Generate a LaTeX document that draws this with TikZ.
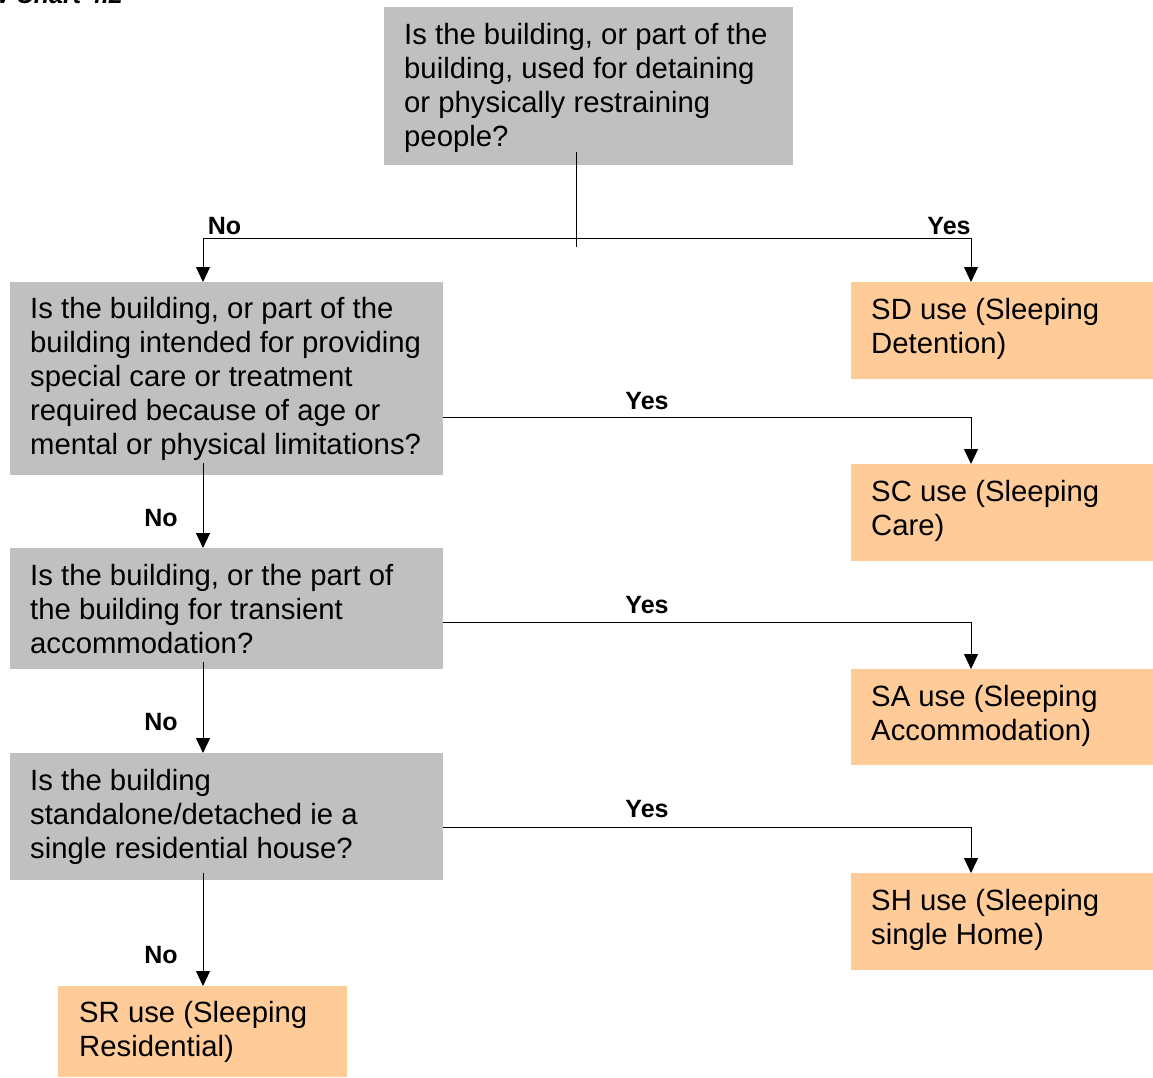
\documentclass[tikz,border=0pt]{standalone}
\usepackage{fontspec}
\setmainfont{Liberation Sans}
\usetikzlibrary{arrows.meta}
\definecolor{qgray}{HTML}{C0C0C0}
\definecolor{aorange}{HTML}{FFCC99}
\tikzset{
  qbox/.style={draw=none, fill=qgray, rectangle, inner sep=0pt, anchor=north west},
  abox/.style={draw=none, fill=aorange, rectangle, inner sep=0pt, anchor=north west},
  btxt/.style={anchor=west, align=left, inner sep=0pt, font=\fontsize{29.3}{34}\selectfont},
  lbl/.style={inner sep=0pt, font=\fontsize{25}{28}\selectfont\bfseries},
  conn/.style={line width=1pt, draw=black},
  arr/.style={conn, -{Triangle[width=14pt,length=15pt]}}
}
\begin{document}
\begin{tikzpicture}[x=1pt,y=-1pt]
\useasboundingbox (0,0) rectangle (1153,1077);
\clip (0,0) rectangle (1153,1077);
\node[inner sep=0pt, anchor=base east, font=\fontsize{25}{28}\selectfont\bfseries\itshape] (title) at (123,3.5) {Flow Chart 4.2};
% question boxes
\node[qbox, minimum width=409pt, minimum height=158pt] (q1) at (384,7) {};
\node[qbox, minimum width=433pt, minimum height=193pt] (q2) at (10,282) {};
\node[qbox, minimum width=433pt, minimum height=121pt] (q3) at (10,548) {};
\node[qbox, minimum width=433pt, minimum height=127pt] (q4) at (10,753) {};
% answer boxes
\node[abox, minimum width=302pt, minimum height=97pt] (sd) at (851,282) {};
\node[abox, minimum width=302pt, minimum height=97pt] (sc) at (851,464) {};
\node[abox, minimum width=302pt, minimum height=96pt] (sa) at (851,669) {};
\node[abox, minimum width=302pt, minimum height=97pt] (sh) at (851,873) {};
\node[abox, minimum width=289pt, minimum height=91pt] (sr) at (58,986) {};
% texts
\node[btxt] (q1t) at ([xshift=20pt,yshift=-1.5pt]q1.west) {Is the building, or part of the\\building, used for detaining\\or physically restraining\\people?};
\node[btxt] (q2t) at ([xshift=20pt]q2.west) {Is the building, or part of the\\building intended for providing\\special care or treatment\\required because of age or\\mental or physical limitations?};
\node[btxt] (q3t) at ([xshift=20pt]q3.west) {Is the building, or the part of\\the building for transient\\accommodation?};
\node[btxt] (q4t) at ([xshift=20pt]q4.west) {Is the building\\standalone/detached ie a\\single residential house?};
\node[btxt] (sdt) at ([xshift=20pt,yshift=2pt]sd.west) {SD use (Sleeping\\Detention)};
\node[btxt] (sct) at ([xshift=20pt,yshift=2pt]sc.west) {SC use (Sleeping\\Care)};
\node[btxt] (sat) at ([xshift=20pt,yshift=1.5pt]sa.west) {SA use (Sleeping\\Accommodation)};
\node[btxt] (sht) at ([xshift=20pt,yshift=2pt]sh.west) {SH use (Sleeping\\single Home)};
\node[btxt] (srt) at ([xshift=21pt]sr.west) {SR use (Sleeping\\Residential)};
% connectors
\coordinate (j1) at (576,238);
\coordinate (nL) at (203,238);
\coordinate (nR) at (971,238);
\draw[conn] ([yshift=13pt]q1.south -| j1) -- ([yshift=-9pt]j1);
\draw[conn] (nL) -- (nR);
\draw[arr] (nL) -- (nL |- q2.north);
\draw[arr] (nR) -- (nR |- sd.north);
\draw[arr] ([yshift=-38.5pt]q2.east) -| (nR |- sc.north);
\draw[arr] ([yshift=-13.5pt]q3.east) -| (nR |- sa.north);
\draw[arr] ([yshift=-10.5pt]q4.east) -| (nR |- sh.north);
\draw[arr] ([yshift=12pt]nL |- q2.south) -- (nL |- q3.north);
\draw[arr] ([yshift=7pt]nL |- q3.south) -- (nL |- q4.north);
\draw[arr] ([yshift=7pt]nL |- q4.south) -- (nL |- sr.north);
% labels
\node[lbl] (l1) at (224.5,226) {No};
\node[lbl] (l2) at (949,226) {Yes};
\node[lbl] (l3) at (647,401) {Yes};
\node[lbl] (l4) at (647,605) {Yes};
\node[lbl] (l5) at (647,809) {Yes};
\node[lbl] (l6) at (161,518) {No};
\node[lbl] (l7) at (161,722) {No};
\node[lbl] (l8) at (161,955) {No};
\end{tikzpicture}
\end{document}
